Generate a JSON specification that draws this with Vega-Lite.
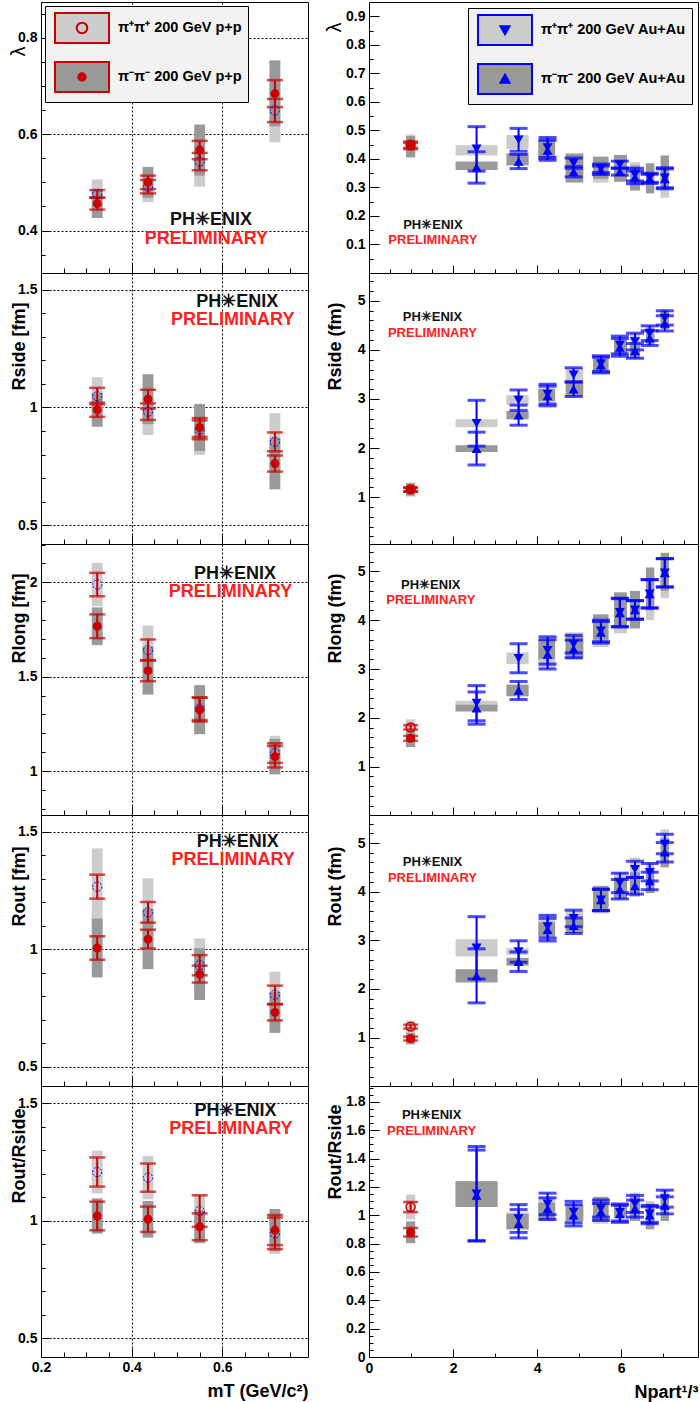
{
  "$schema": "https://vega.github.io/schema/vega-lite/v6.json",
  "padding": {"left": 7, "top": 1, "right": 2, "bottom": 0},
  "datasets": {
    "L": [
      {"p":"lambda","s":"P","x":0.324,"y":0.476,"e":0.008,"x1":0.312,"x2":0.336,"y1":0.446,"y2":0.506},
      {"p":"lambda","s":"P","x":0.436,"y":0.491,"e":0.014,"x1":0.424,"x2":0.448,"y1":0.459,"y2":0.523},
      {"p":"lambda","s":"P","x":0.55,"y":0.543,"e":0.018,"x1":0.538,"x2":0.562,"y1":0.491,"y2":0.595},
      {"p":"lambda","s":"P","x":0.716,"y":0.649,"e":0.024,"x1":0.704,"x2":0.728,"y1":0.583,"y2":0.715},
      {"p":"lambda","s":"M","x":0.324,"y":0.456,"e":0.0125,"x1":0.312,"x2":0.336,"y1":0.426,"y2":0.486},
      {"p":"lambda","s":"M","x":0.436,"y":0.5,"e":0.014,"x1":0.424,"x2":0.448,"y1":0.468,"y2":0.532},
      {"p":"lambda","s":"M","x":0.55,"y":0.567,"e":0.019,"x1":0.538,"x2":0.562,"y1":0.514,"y2":0.62},
      {"p":"lambda","s":"M","x":0.716,"y":0.684,"e":0.028,"x1":0.704,"x2":0.728,"y1":0.616,"y2":0.753},
      {"p":"Rside","s":"P","x":0.324,"y":1.048,"e":0.035,"x1":0.312,"x2":0.336,"y1":0.968,"y2":1.128},
      {"p":"Rside","s":"P","x":0.436,"y":0.982,"e":0.035,"x1":0.424,"x2":0.448,"y1":0.883,"y2":1.081},
      {"p":"Rside","s":"P","x":0.55,"y":0.905,"e":0.04,"x1":0.538,"x2":0.562,"y1":0.799,"y2":1.011},
      {"p":"Rside","s":"P","x":0.716,"y":0.854,"e":0.04,"x1":0.704,"x2":0.728,"y1":0.732,"y2":0.976},
      {"p":"Rside","s":"M","x":0.324,"y":0.99,"e":0.03,"x1":0.312,"x2":0.336,"y1":0.918,"y2":1.062},
      {"p":"Rside","s":"M","x":0.436,"y":1.035,"e":0.04,"x1":0.424,"x2":0.448,"y1":0.929,"y2":1.141},
      {"p":"Rside","s":"M","x":0.55,"y":0.915,"e":0.04,"x1":0.538,"x2":0.562,"y1":0.815,"y2":1.015},
      {"p":"Rside","s":"M","x":0.716,"y":0.762,"e":0.034,"x1":0.704,"x2":0.728,"y1":0.653,"y2":0.871},
      {"p":"Rlong","s":"P","x":0.324,"y":1.988,"e":0.062,"x1":0.312,"x2":0.336,"y1":1.873,"y2":2.103},
      {"p":"Rlong","s":"P","x":0.436,"y":1.641,"e":0.056,"x1":0.424,"x2":0.448,"y1":1.511,"y2":1.771},
      {"p":"Rlong","s":"P","x":0.55,"y":1.33,"e":0.06,"x1":0.538,"x2":0.562,"y1":1.21,"y2":1.45},
      {"p":"Rlong","s":"P","x":0.716,"y":1.095,"e":0.052,"x1":0.704,"x2":0.728,"y1":1.003,"y2":1.187},
      {"p":"Rlong","s":"M","x":0.324,"y":1.767,"e":0.063,"x1":0.312,"x2":0.336,"y1":1.667,"y2":1.867},
      {"p":"Rlong","s":"M","x":0.436,"y":1.532,"e":0.056,"x1":0.424,"x2":0.448,"y1":1.405,"y2":1.659},
      {"p":"Rlong","s":"M","x":0.55,"y":1.325,"e":0.063,"x1":0.538,"x2":0.562,"y1":1.195,"y2":1.455},
      {"p":"Rlong","s":"M","x":0.716,"y":1.076,"e":0.057,"x1":0.704,"x2":0.728,"y1":0.982,"y2":1.17},
      {"p":"Rout","s":"P","x":0.324,"y":1.267,"e":0.051,"x1":0.312,"x2":0.336,"y1":1.104,"y2":1.43},
      {"p":"Rout","s":"P","x":0.436,"y":1.158,"e":0.044,"x1":0.424,"x2":0.448,"y1":1.013,"y2":1.303},
      {"p":"Rout","s":"P","x":0.55,"y":0.933,"e":0.043,"x1":0.538,"x2":0.562,"y1":0.819,"y2":1.047},
      {"p":"Rout","s":"P","x":0.716,"y":0.807,"e":0.039,"x1":0.704,"x2":0.728,"y1":0.709,"y2":0.905},
      {"p":"Rout","s":"M","x":0.324,"y":1.006,"e":0.05,"x1":0.312,"x2":0.336,"y1":0.881,"y2":1.131},
      {"p":"Rout","s":"M","x":0.436,"y":1.044,"e":0.04,"x1":0.424,"x2":0.448,"y1":0.916,"y2":1.172},
      {"p":"Rout","s":"M","x":0.55,"y":0.895,"e":0.036,"x1":0.538,"x2":0.562,"y1":0.785,"y2":1.005},
      {"p":"Rout","s":"M","x":0.716,"y":0.732,"e":0.034,"x1":0.704,"x2":0.728,"y1":0.645,"y2":0.819},
      {"p":"ratio","s":"P","x":0.324,"y":1.207,"e":0.062,"x1":0.312,"x2":0.336,"y1":1.116,"y2":1.298},
      {"p":"ratio","s":"P","x":0.436,"y":1.183,"e":0.06,"x1":0.424,"x2":0.448,"y1":1.091,"y2":1.275},
      {"p":"ratio","s":"P","x":0.55,"y":1.041,"e":0.067,"x1":0.538,"x2":0.562,"y1":0.971,"y2":1.111},
      {"p":"ratio","s":"P","x":0.716,"y":0.946,"e":0.067,"x1":0.704,"x2":0.728,"y1":0.859,"y2":1.033},
      {"p":"ratio","s":"M","x":0.324,"y":1.02,"e":0.061,"x1":0.312,"x2":0.336,"y1":0.945,"y2":1.095},
      {"p":"ratio","s":"M","x":0.436,"y":1.006,"e":0.054,"x1":0.424,"x2":0.448,"y1":0.928,"y2":1.084},
      {"p":"ratio","s":"M","x":0.55,"y":0.974,"e":0.057,"x1":0.538,"x2":0.562,"y1":0.904,"y2":1.044},
      {"p":"ratio","s":"M","x":0.716,"y":0.96,"e":0.064,"x1":0.704,"x2":0.728,"y1":0.87,"y2":1.05},
      {"p":"lambda","w":"PH✳ENIX","x":0.575,"y":0.421},
      {"p":"lambda","w":"PRELIMINARY","x":0.565,"y":0.382},
      {"p":"Rside","w":"PH✳ENIX","x":0.633,"y":1.447},
      {"p":"Rside","w":"PRELIMINARY","x":0.623,"y":1.37},
      {"p":"Rlong","w":"PH✳ENIX","x":0.628,"y":2.044},
      {"p":"Rlong","w":"PRELIMINARY","x":0.618,"y":1.949},
      {"p":"Rout","w":"PH✳ENIX","x":0.634,"y":1.458},
      {"p":"Rout","w":"PRELIMINARY","x":0.624,"y":1.382},
      {"p":"ratio","w":"PH✳ENIX","x":0.629,"y":1.466},
      {"p":"ratio","w":"PRELIMINARY","x":0.619,"y":1.39}
    ],
    "R": [
      {"p":"lambda","s":"P","x":0.99,"y":0.45,"e":0.011,"x1":0.88,"x2":1.1,"y1":0.415,"y2":0.485},
      {"p":"lambda","s":"M","x":0.99,"y":0.445,"e":0.011,"x1":0.88,"x2":1.1,"y1":0.405,"y2":0.48},
      {"p":"lambda","s":"AP","x":2.56,"y":0.435,"e":0.078,"x1":2.06,"x2":3.06,"y1":0.412,"y2":0.448},
      {"p":"lambda","s":"AP","x":3.56,"y":0.467,"e":0.04,"x1":3.27,"x2":3.8,"y1":0.435,"y2":0.484},
      {"p":"lambda","s":"AP","x":4.25,"y":0.44,"e":0.035,"x1":4.03,"x2":4.43,"y1":0.395,"y2":0.47},
      {"p":"lambda","s":"AP","x":4.87,"y":0.385,"e":0.018,"x1":4.68,"x2":5.1,"y1":0.345,"y2":0.42},
      {"p":"lambda","s":"AP","x":5.52,"y":0.367,"e":0.015,"x1":5.33,"x2":5.7,"y1":0.317,"y2":0.402},
      {"p":"lambda","s":"AP","x":5.97,"y":0.38,"e":0.012,"x1":5.83,"x2":6.14,"y1":0.32,"y2":0.41},
      {"p":"lambda","s":"AP","x":6.33,"y":0.345,"e":0.022,"x1":6.21,"x2":6.45,"y1":0.3,"y2":0.388},
      {"p":"lambda","s":"AP","x":6.68,"y":0.334,"e":0.016,"x1":6.59,"x2":6.79,"y1":0.29,"y2":0.37},
      {"p":"lambda","s":"AP","x":7.04,"y":0.334,"e":0.035,"x1":6.94,"x2":7.14,"y1":0.264,"y2":0.37},
      {"p":"lambda","s":"AM","x":2.56,"y":0.37,"e":0.055,"x1":2.06,"x2":3.06,"y1":0.361,"y2":0.391},
      {"p":"lambda","s":"AM","x":3.56,"y":0.391,"e":0.025,"x1":3.27,"x2":3.8,"y1":0.377,"y2":0.42},
      {"p":"lambda","s":"AM","x":4.25,"y":0.43,"e":0.035,"x1":4.03,"x2":4.43,"y1":0.397,"y2":0.467},
      {"p":"lambda","s":"AM","x":4.87,"y":0.355,"e":0.018,"x1":4.68,"x2":5.1,"y1":0.317,"y2":0.418},
      {"p":"lambda","s":"AM","x":5.52,"y":0.36,"e":0.015,"x1":5.33,"x2":5.7,"y1":0.33,"y2":0.408},
      {"p":"lambda","s":"AM","x":5.97,"y":0.355,"e":0.012,"x1":5.83,"x2":6.14,"y1":0.32,"y2":0.414},
      {"p":"lambda","s":"AM","x":6.33,"y":0.335,"e":0.022,"x1":6.21,"x2":6.45,"y1":0.289,"y2":0.377},
      {"p":"lambda","s":"AM","x":6.68,"y":0.33,"e":0.016,"x1":6.59,"x2":6.79,"y1":0.279,"y2":0.385},
      {"p":"lambda","s":"AM","x":7.04,"y":0.33,"e":0.035,"x1":6.94,"x2":7.14,"y1":0.3,"y2":0.412},
      {"p":"Rside","s":"P","x":0.99,"y":1.16,"e":0.04,"x1":0.88,"x2":1.1,"y1":1.01,"y2":1.3},
      {"p":"Rside","s":"M","x":0.99,"y":1.15,"e":0.04,"x1":0.88,"x2":1.1,"y1":1.03,"y2":1.28},
      {"p":"Rside","s":"AP","x":2.56,"y":2.506,"e":0.467,"x1":2.06,"x2":3.06,"y1":2.424,"y2":2.588},
      {"p":"Rside","s":"AP","x":3.56,"y":2.976,"e":0.208,"x1":3.27,"x2":3.8,"y1":2.874,"y2":3.078},
      {"p":"Rside","s":"AP","x":4.25,"y":3.1,"e":0.2,"x1":4.03,"x2":4.43,"y1":2.96,"y2":3.22},
      {"p":"Rside","s":"AP","x":4.87,"y":3.49,"e":0.146,"x1":4.68,"x2":5.1,"y1":3.35,"y2":3.63},
      {"p":"Rside","s":"AP","x":5.52,"y":3.72,"e":0.16,"x1":5.33,"x2":5.7,"y1":3.58,"y2":3.86},
      {"p":"Rside","s":"AP","x":5.97,"y":4.1,"e":0.18,"x1":5.83,"x2":6.14,"y1":3.95,"y2":4.25},
      {"p":"Rside","s":"AP","x":6.33,"y":4.17,"e":0.17,"x1":6.21,"x2":6.45,"y1":4.0,"y2":4.34},
      {"p":"Rside","s":"AP","x":6.68,"y":4.34,"e":0.15,"x1":6.59,"x2":6.79,"y1":4.2,"y2":4.48},
      {"p":"Rside","s":"AP","x":7.04,"y":4.65,"e":0.146,"x1":6.94,"x2":7.14,"y1":4.47,"y2":4.83},
      {"p":"Rside","s":"AM","x":2.56,"y":1.99,"e":0.334,"x1":2.06,"x2":3.06,"y1":1.922,"y2":2.058},
      {"p":"Rside","s":"AM","x":3.56,"y":2.67,"e":0.204,"x1":3.27,"x2":3.8,"y1":2.585,"y2":2.755},
      {"p":"Rside","s":"AM","x":4.25,"y":3.06,"e":0.2,"x1":4.03,"x2":4.43,"y1":2.95,"y2":3.2},
      {"p":"Rside","s":"AM","x":4.87,"y":3.2,"e":0.15,"x1":4.68,"x2":5.1,"y1":3.05,"y2":3.35},
      {"p":"Rside","s":"AM","x":5.52,"y":3.69,"e":0.16,"x1":5.33,"x2":5.7,"y1":3.56,"y2":3.82},
      {"p":"Rside","s":"AM","x":5.97,"y":4.05,"e":0.18,"x1":5.83,"x2":6.14,"y1":3.9,"y2":4.2},
      {"p":"Rside","s":"AM","x":6.33,"y":3.98,"e":0.15,"x1":6.21,"x2":6.45,"y1":3.82,"y2":4.14},
      {"p":"Rside","s":"AM","x":6.68,"y":4.24,"e":0.15,"x1":6.59,"x2":6.79,"y1":4.1,"y2":4.38},
      {"p":"Rside","s":"AM","x":7.04,"y":4.54,"e":0.155,"x1":6.94,"x2":7.14,"y1":4.42,"y2":4.8},
      {"p":"Rlong","s":"P","x":0.99,"y":1.805,"e":0.045,"x1":0.88,"x2":1.1,"y1":1.64,"y2":1.97},
      {"p":"Rlong","s":"M","x":0.99,"y":1.58,"e":0.05,"x1":0.88,"x2":1.1,"y1":1.4,"y2":1.76},
      {"p":"Rlong","s":"AP","x":2.56,"y":2.3,"e":0.36,"x1":2.06,"x2":3.06,"y1":2.21,"y2":2.35},
      {"p":"Rlong","s":"AP","x":3.56,"y":3.22,"e":0.297,"x1":3.27,"x2":3.8,"y1":3.1,"y2":3.34},
      {"p":"Rlong","s":"AP","x":4.25,"y":3.38,"e":0.28,"x1":4.03,"x2":4.43,"y1":3.01,"y2":3.45},
      {"p":"Rlong","s":"AP","x":4.87,"y":3.51,"e":0.18,"x1":4.68,"x2":5.1,"y1":3.25,"y2":3.75},
      {"p":"Rlong","s":"AP","x":5.52,"y":3.78,"e":0.22,"x1":5.33,"x2":5.7,"y1":3.45,"y2":3.95},
      {"p":"Rlong","s":"AP","x":5.97,"y":4.16,"e":0.29,"x1":5.83,"x2":6.14,"y1":3.73,"y2":4.5},
      {"p":"Rlong","s":"AP","x":6.33,"y":4.21,"e":0.19,"x1":6.21,"x2":6.45,"y1":3.9,"y2":4.55},
      {"p":"Rlong","s":"AP","x":6.68,"y":4.54,"e":0.29,"x1":6.59,"x2":6.79,"y1":4.0,"y2":4.9},
      {"p":"Rlong","s":"AP","x":7.04,"y":4.97,"e":0.29,"x1":6.94,"x2":7.14,"y1":4.45,"y2":5.2},
      {"p":"Rlong","s":"AM","x":2.56,"y":2.2,"e":0.33,"x1":2.06,"x2":3.06,"y1":2.13,"y2":2.27},
      {"p":"Rlong","s":"AM","x":3.56,"y":2.56,"e":0.184,"x1":3.27,"x2":3.8,"y1":2.44,"y2":2.68},
      {"p":"Rlong","s":"AM","x":4.25,"y":3.3,"e":0.3,"x1":4.03,"x2":4.43,"y1":3.2,"y2":3.61},
      {"p":"Rlong","s":"AM","x":4.87,"y":3.41,"e":0.18,"x1":4.68,"x2":5.1,"y1":3.2,"y2":3.68},
      {"p":"Rlong","s":"AM","x":5.52,"y":3.75,"e":0.22,"x1":5.33,"x2":5.7,"y1":3.6,"y2":4.12},
      {"p":"Rlong","s":"AM","x":5.97,"y":4.15,"e":0.29,"x1":5.83,"x2":6.14,"y1":3.88,"y2":4.57},
      {"p":"Rlong","s":"AM","x":6.33,"y":4.21,"e":0.19,"x1":6.21,"x2":6.45,"y1":3.83,"y2":4.6},
      {"p":"Rlong","s":"AM","x":6.68,"y":4.54,"e":0.29,"x1":6.59,"x2":6.79,"y1":4.2,"y2":5.08},
      {"p":"Rlong","s":"AM","x":7.04,"y":4.97,"e":0.29,"x1":6.94,"x2":7.14,"y1":4.6,"y2":5.38},
      {"p":"Rout","s":"P","x":0.99,"y":1.226,"e":0.04,"x1":0.88,"x2":1.1,"y1":1.1,"y2":1.35},
      {"p":"Rout","s":"M","x":0.99,"y":0.98,"e":0.04,"x1":0.88,"x2":1.1,"y1":0.86,"y2":1.1},
      {"p":"Rout","s":"AP","x":2.56,"y":2.846,"e":0.64,"x1":2.06,"x2":3.06,"y1":2.668,"y2":3.024},
      {"p":"Rout","s":"AP","x":3.56,"y":2.77,"e":0.22,"x1":3.27,"x2":3.8,"y1":2.7,"y2":2.84},
      {"p":"Rout","s":"AP","x":4.25,"y":3.28,"e":0.233,"x1":4.03,"x2":4.43,"y1":3.12,"y2":3.44},
      {"p":"Rout","s":"AP","x":4.87,"y":3.45,"e":0.17,"x1":4.68,"x2":5.1,"y1":3.3,"y2":3.6},
      {"p":"Rout","s":"AP","x":5.52,"y":3.83,"e":0.22,"x1":5.33,"x2":5.7,"y1":3.55,"y2":4.1},
      {"p":"Rout","s":"AP","x":5.97,"y":4.18,"e":0.2,"x1":5.83,"x2":6.14,"y1":3.9,"y2":4.4},
      {"p":"Rout","s":"AP","x":6.33,"y":4.46,"e":0.165,"x1":6.21,"x2":6.45,"y1":4.25,"y2":4.7},
      {"p":"Rout","s":"AP","x":6.68,"y":4.4,"e":0.18,"x1":6.59,"x2":6.79,"y1":4.2,"y2":4.6},
      {"p":"Rout","s":"AP","x":7.04,"y":4.98,"e":0.2,"x1":6.94,"x2":7.14,"y1":4.65,"y2":5.28},
      {"p":"Rout","s":"AM","x":2.56,"y":2.27,"e":0.556,"x1":2.06,"x2":3.06,"y1":2.133,"y2":2.407},
      {"p":"Rout","s":"AM","x":3.56,"y":2.56,"e":0.2,"x1":3.27,"x2":3.8,"y1":2.48,"y2":2.64},
      {"p":"Rout","s":"AM","x":4.25,"y":3.22,"e":0.233,"x1":4.03,"x2":4.43,"y1":3.07,"y2":3.37},
      {"p":"Rout","s":"AM","x":4.87,"y":3.3,"e":0.16,"x1":4.68,"x2":5.1,"y1":3.15,"y2":3.45},
      {"p":"Rout","s":"AM","x":5.52,"y":3.83,"e":0.22,"x1":5.33,"x2":5.7,"y1":3.6,"y2":4.12},
      {"p":"Rout","s":"AM","x":5.97,"y":4.05,"e":0.2,"x1":5.83,"x2":6.14,"y1":3.85,"y2":4.3},
      {"p":"Rout","s":"AM","x":6.33,"y":4.12,"e":0.17,"x1":6.21,"x2":6.45,"y1":3.9,"y2":4.4},
      {"p":"Rout","s":"AM","x":6.68,"y":4.22,"e":0.18,"x1":6.59,"x2":6.79,"y1":3.97,"y2":4.45},
      {"p":"Rout","s":"AM","x":7.04,"y":4.81,"e":0.2,"x1":6.94,"x2":7.14,"y1":4.5,"y2":5.1},
      {"p":"ratio","s":"P","x":0.99,"y":1.058,"e":0.036,"x1":0.88,"x2":1.1,"y1":0.97,"y2":1.146},
      {"p":"ratio","s":"M","x":0.99,"y":0.88,"e":0.03,"x1":0.88,"x2":1.1,"y1":0.803,"y2":0.957},
      {"p":"ratio","s":"AP","x":2.56,"y":1.152,"e":0.333,"x1":2.06,"x2":3.06,"y1":1.06,"y2":1.24},
      {"p":"ratio","s":"AP","x":3.56,"y":0.977,"e":0.098,"x1":3.27,"x2":3.8,"y1":0.91,"y2":1.02},
      {"p":"ratio","s":"AP","x":4.25,"y":1.08,"e":0.076,"x1":4.03,"x2":4.43,"y1":1.0,"y2":1.13},
      {"p":"ratio","s":"AP","x":4.87,"y":1.023,"e":0.075,"x1":4.68,"x2":5.1,"y1":0.97,"y2":1.08},
      {"p":"ratio","s":"AP","x":5.52,"y":1.047,"e":0.06,"x1":5.33,"x2":5.7,"y1":0.94,"y2":1.11},
      {"p":"ratio","s":"AP","x":5.97,"y":1.02,"e":0.06,"x1":5.83,"x2":6.14,"y1":0.98,"y2":1.07},
      {"p":"ratio","s":"AP","x":6.33,"y":1.08,"e":0.06,"x1":6.21,"x2":6.45,"y1":0.97,"y2":1.16},
      {"p":"ratio","s":"AP","x":6.68,"y":1.01,"e":0.06,"x1":6.59,"x2":6.79,"y1":0.93,"y2":1.1},
      {"p":"ratio","s":"AP","x":7.04,"y":1.117,"e":0.06,"x1":6.94,"x2":7.14,"y1":1.03,"y2":1.18},
      {"p":"ratio","s":"AM","x":2.56,"y":1.14,"e":0.32,"x1":2.06,"x2":3.06,"y1":1.058,"y2":1.24},
      {"p":"ratio","s":"AM","x":3.56,"y":0.94,"e":0.1,"x1":3.27,"x2":3.8,"y1":0.9,"y2":1.01},
      {"p":"ratio","s":"AM","x":4.25,"y":1.047,"e":0.076,"x1":4.03,"x2":4.43,"y1":0.96,"y2":1.09},
      {"p":"ratio","s":"AM","x":4.87,"y":1.0,"e":0.075,"x1":4.68,"x2":5.1,"y1":0.96,"y2":1.07},
      {"p":"ratio","s":"AM","x":5.52,"y":1.023,"e":0.06,"x1":5.33,"x2":5.7,"y1":0.96,"y2":1.13},
      {"p":"ratio","s":"AM","x":5.97,"y":1.01,"e":0.06,"x1":5.83,"x2":6.14,"y1":0.98,"y2":1.07},
      {"p":"ratio","s":"AM","x":6.33,"y":1.047,"e":0.06,"x1":6.21,"x2":6.45,"y1":0.96,"y2":1.13},
      {"p":"ratio","s":"AM","x":6.68,"y":1.0,"e":0.06,"x1":6.59,"x2":6.79,"y1":0.9,"y2":1.08},
      {"p":"ratio","s":"AM","x":7.04,"y":1.07,"e":0.06,"x1":6.94,"x2":7.14,"y1":0.96,"y2":1.12},
      {"p":"lambda","w":"PH✳ENIX","x":1.52,"y":0.17},
      {"p":"lambda","w":"PRELIMINARY","x":1.52,"y":0.114},
      {"p":"Rside","w":"PH✳ENIX","x":1.51,"y":4.67},
      {"p":"Rside","w":"PRELIMINARY","x":1.51,"y":4.345},
      {"p":"Rlong","w":"PH✳ENIX","x":1.47,"y":4.73},
      {"p":"Rlong","w":"PRELIMINARY","x":1.47,"y":4.405},
      {"p":"Rout","w":"PH✳ENIX","x":1.51,"y":4.6},
      {"p":"Rout","w":"PRELIMINARY","x":1.51,"y":4.275},
      {"p":"ratio","w":"PH✳ENIX","x":1.49,"y":1.704},
      {"p":"ratio","w":"PRELIMINARY","x":1.49,"y":1.591}
    ]
  },
  "columns": 2,
  "spacing": {"row": 0, "column": 61},
  "bounds": "flush",
  "resolve": {
    "scale": {"x": "independent", "y": "independent", "fill": "independent"},
    "axis": {"x": "independent", "y": "independent"},
    "legend": {"fill": "independent"}
  },
  "concat": [
    {
      "width": 267, "height": 271,
      "data": {"name": "L"},
      "transform": [{"filter": "datum.p == 'lambda'"}],
      "encoding": {
        "x": {"field": "x", "type": "quantitative", "scale": {"domain": [0.2, 0.789], "nice": false, "zero": false},
          "axis": {"values": [0.2,0.25,0.3,0.35,0.4,0.45,0.5,0.55,0.6,0.65,0.7,0.75], "labels": false, "title": null, "grid": true,
            "gridOpacity": {"condition": {"test": "abs(datum.value/0.2-round(datum.value/0.2))<0.001", "value": 1}, "value": 0},
            "tickSize": {"condition": {"test": "abs(datum.value/0.2-round(datum.value/0.2))<0.001", "value": -9}, "value": -5}}},
        "y": {"field": "y", "type": "quantitative", "scale": {"domain": [0.312, 0.874], "nice": false, "zero": false},
          "axis": {"values": [0.35,0.4,0.45,0.5,0.55,0.6,0.65,0.7,0.75,0.8,0.85], "title": "λ", "titleFontWeight": "normal", "titleFontSize": 20, "titleY": 44, "titleAlign": "right", "format": ".1f",
            "labelExpr": "abs(datum.value/0.2-round(datum.value/0.2))<0.001 ? datum.label : ''", "grid": true,
            "gridOpacity": {"condition": {"test": "abs(datum.value/0.2-round(datum.value/0.2))<0.001", "value": 1}, "value": 0},
            "tickSize": {"condition": {"test": "abs(datum.value/0.2-round(datum.value/0.2))<0.001", "value": -8}, "value": -4},
            "minExtent": 10, "maxExtent": 10, "titlePadding": 3}}
      },
      "layer": [
        {"transform": [{"filter": "isValid(datum.s)"}], "mark": "rect",
          "encoding": {
            "x": {"field": "x1", "type": "quantitative", "scale": {"domain": [0.2, 0.789], "nice": false, "zero": false}},
            "x2": {"field": "x2"},
            "y": {"field": "y1", "type": "quantitative", "scale": {"domain": [0.312, 0.874], "nice": false, "zero": false}},
            "y2": {"field": "y2"},
            "fill": {"field": "s", "type": "nominal", "scale": {"domain": ["P","M","AP","AM"], "range": ["#cccccc","#999999","#cccccc","#999999"]},
              "legend": {"title": null, "orient": "top-left", "values": ["P","M"],
                "labelExpr": "datum.label == 'P' ? 'π⁺π⁺ 200 GeV p+p' : 'π⁻π⁻ 200 GeV p+p'",
                "encode": {"symbols": {"update": {
                  "shape": {"signal": "datum.value == 'P' ? 'M-1.8,-1L1.8,-1L1.8,1L-1.8,1ZM0.35,0A0.35,0.35,0,1,1,-0.35,0A0.35,0.35,0,1,1,0.35,0Z' : 'M-1.8,-1L1.8,-1L1.8,1L-1.8,1ZM0.25,0A0.25,0.25,0,1,1,-0.25,0A0.25,0.25,0,1,1,0.25,0ZM0.12,0A0.12,0.12,0,1,1,-0.12,0A0.12,0.12,0,1,1,0.12,0ZM0.03,0A0.03,0.03,0,1,1,-0.03,0A0.03,0.03,0,1,1,0.03,0Z'"},
                  "stroke": {"value": "#cc0000"}, "strokeWidth": {"value": 2}}}}}}
          }},
        {"transform": [{"filter": "isValid(datum.s)"}], "mark": {"type": "errorbar", "color": "#cc0000", "thickness": 2, "ticks": {"size": 16, "thickness": 2.5}},
          "encoding": {"yError": {"field": "e"}}},
        {"transform": [{"filter": "datum.s == 'P'"}], "mark": {"type": "point", "shape": "circle", "filled": false, "stroke": "#0000ff", "strokeWidth": 1, "strokeDash": [2, 1.5], "size": 85, "opacity": 1}},
        {"transform": [{"filter": "datum.s == 'M'"}], "mark": {"type": "point", "shape": "circle", "filled": true, "fill": "#cc0000", "size": 80, "opacity": 1}},
        {"transform": [{"filter": "isValid(datum.w)"}], "mark": {"type": "text", "font": "Liberation Sans", "fontWeight": "bold", "fontSize": 18, "align": "center", "baseline": "middle"},
          "encoding": {"text": {"field": "w"}, "color": {"condition": {"test": "datum.w == 'PRELIMINARY'", "value": "#ff2020"}, "value": "#111111"}}}
      ]
    },
    {
      "width": 329, "height": 271,
      "data": {"name": "R"},
      "transform": [{"filter": "datum.p == 'lambda'"}],
      "encoding": {
        "x": {"field": "x", "type": "quantitative", "scale": {"domain": [0, 7.83], "nice": false, "zero": false},
          "axis": {"values": [0,0.5,1,1.5,2,2.5,3,3.5,4,4.5,5,5.5,6,6.5,7,7.5], "labels": false, "title": null, "grid": false,
            "tickSize": {"condition": {"test": "abs(datum.value/2-round(datum.value/2))<0.001", "value": -8}, "value": -4}}},
        "y": {"field": "y", "type": "quantitative", "scale": {"domain": [0, 0.95], "nice": false, "zero": false},
          "axis": {"values": [0.05,0.1,0.15,0.2,0.25,0.3,0.35,0.4,0.45,0.5,0.55,0.6,0.65,0.7,0.75,0.8,0.85,0.9], "title": "λ", "titleFontWeight": "normal", "titleFontSize": 20, "titleY": 20, "titleAlign": "right", "format": ".1f",
            "labelExpr": "abs(datum.value/0.1-round(datum.value/0.1))<0.001 ? datum.label : ''", "grid": false, "labelPadding": 14,
            "tickSize": {"condition": {"test": "abs(datum.value/0.1-round(datum.value/0.1))<0.001", "value": -10}, "value": -4},
            "minExtent": 22, "maxExtent": 22, "titlePadding": 3}}
      },
      "layer": [
        {"transform": [{"filter": "isValid(datum.s)"}], "mark": "rect",
          "encoding": {
            "x": {"field": "x1", "type": "quantitative", "scale": {"domain": [0, 7.83], "nice": false, "zero": false}},
            "x2": {"field": "x2"},
            "y": {"field": "y1", "type": "quantitative", "scale": {"domain": [0, 0.95], "nice": false, "zero": false}},
            "y2": {"field": "y2"},
            "fill": {"field": "s", "type": "nominal", "scale": {"domain": ["P","M","AP","AM"], "range": ["#cccccc","#999999","#cccccc","#999999"]},
              "legend": {"title": null, "orient": "top-right", "offset": 6, "values": ["AP","AM"],
                "labelExpr": "datum.label == 'AP' ? 'π⁺π⁺ 200 GeV Au+Au' : 'π⁻π⁻ 200 GeV Au+Au'",
                "encode": {"symbols": {"update": {
                  "shape": {"signal": "datum.value == 'AP' ? 'M-1.8,-1L1.8,-1L1.8,1L-1.8,1ZM-0.3,-0.25L0.3,-0.25L0,0.28ZM-0.13,-0.11L0.13,-0.11L0,0.12Z' : 'M-1.8,-1L1.8,-1L1.8,1L-1.8,1ZM0.3,0.25L-0.3,0.25L0,-0.28ZM0.13,0.11L-0.13,0.11L0,-0.12Z'"},
                  "stroke": {"value": "#0000ff"}, "strokeWidth": {"value": 2}}}}}}
          }},
        {"transform": [{"filter": "datum.s == 'P' || datum.s == 'M'"}], "mark": {"type": "errorbar", "color": "#cc0000", "thickness": 2, "ticks": {"size": 15, "thickness": 2.5}},
          "encoding": {"yError": {"field": "e"}}},
        {"transform": [{"filter": "datum.s == 'AP' || datum.s == 'AM'"}], "mark": {"type": "errorbar", "color": "#0000ff", "thickness": 2, "ticks": {"size": 18, "thickness": 3}},
          "encoding": {"yError": {"field": "e"}}},
        {"transform": [{"filter": "datum.s == 'M'"}], "mark": {"type": "point", "shape": "circle", "filled": true, "fill": "#cc0000", "size": 80, "opacity": 1}},
        {"transform": [{"filter": "datum.s == 'AP'"}], "mark": {"type": "point", "shape": "triangle-down", "filled": true, "fill": "#0000ff", "size": 100, "opacity": 1}},
        {"transform": [{"filter": "datum.s == 'AM'"}], "mark": {"type": "point", "shape": "triangle-up", "filled": true, "fill": "#0000ff", "size": 100, "opacity": 1}},
        {"transform": [{"filter": "datum.s == 'P'"}], "mark": {"type": "point", "shape": "circle", "filled": false, "stroke": "#cc0000", "strokeWidth": 1.5, "size": 80, "opacity": 1}},
        {"transform": [{"filter": "isValid(datum.w)"}], "mark": {"type": "text", "font": "Liberation Sans", "fontWeight": "bold", "fontSize": 13, "align": "center", "baseline": "middle"},
          "encoding": {"text": {"field": "w"}, "color": {"condition": {"test": "datum.w == 'PRELIMINARY'", "value": "#ff2020"}, "value": "#111111"}}}
      ]
    },
    {
      "width": 267, "height": 271,
      "data": {"name": "L"},
      "transform": [{"filter": "datum.p == 'Rside'"}],
      "encoding": {
        "x": {"field": "x", "type": "quantitative", "scale": {"domain": [0.2, 0.789], "nice": false, "zero": false},
          "axis": {"values": [0.2,0.25,0.3,0.35,0.4,0.45,0.5,0.55,0.6,0.65,0.7,0.75], "labels": false, "title": null, "grid": true,
            "gridOpacity": {"condition": {"test": "abs(datum.value/0.2-round(datum.value/0.2))<0.001", "value": 1}, "value": 0},
            "tickSize": {"condition": {"test": "abs(datum.value/0.2-round(datum.value/0.2))<0.001", "value": -9}, "value": -5}}},
        "y": {"field": "y", "type": "quantitative", "scale": {"domain": [0.421, 1.57], "nice": false, "zero": false},
          "axis": {"values": [0.5,0.6,0.7,0.8,0.9,1,1.1,1.2,1.3,1.4,1.5], "title": "Rside [fm]", "titleY": 29, "titleAlign": "right", "format": "~g",
            "labelExpr": "abs(datum.value/0.5-round(datum.value/0.5))<0.001 ? datum.label : ''", "grid": true,
            "gridOpacity": {"condition": {"test": "abs(datum.value/0.5-round(datum.value/0.5))<0.001", "value": 1}, "value": 0},
            "tickSize": {"condition": {"test": "abs(datum.value/0.5-round(datum.value/0.5))<0.001", "value": -8}, "value": -4},
            "minExtent": 10, "maxExtent": 10, "titlePadding": 3}}
      },
      "layer": [
        {"transform": [{"filter": "isValid(datum.s)"}], "mark": "rect",
          "encoding": {
            "x": {"field": "x1", "type": "quantitative", "scale": {"domain": [0.2, 0.789], "nice": false, "zero": false}},
            "x2": {"field": "x2"},
            "y": {"field": "y1", "type": "quantitative", "scale": {"domain": [0.421, 1.57], "nice": false, "zero": false}},
            "y2": {"field": "y2"},
            "fill": {"field": "s", "type": "nominal", "scale": {"domain": ["P","M","AP","AM"], "range": ["#cccccc","#999999","#cccccc","#999999"]}, "legend": null}
          }},
        {"transform": [{"filter": "isValid(datum.s)"}], "mark": {"type": "errorbar", "color": "#cc0000", "thickness": 2, "ticks": {"size": 16, "thickness": 2.5}},
          "encoding": {"yError": {"field": "e"}}},
        {"transform": [{"filter": "datum.s == 'P'"}], "mark": {"type": "point", "shape": "circle", "filled": false, "stroke": "#0000ff", "strokeWidth": 1, "strokeDash": [2, 1.5], "size": 85, "opacity": 1}},
        {"transform": [{"filter": "datum.s == 'M'"}], "mark": {"type": "point", "shape": "circle", "filled": true, "fill": "#cc0000", "size": 80, "opacity": 1}},
        {"transform": [{"filter": "isValid(datum.w)"}], "mark": {"type": "text", "font": "Liberation Sans", "fontWeight": "bold", "fontSize": 18, "align": "center", "baseline": "middle"},
          "encoding": {"text": {"field": "w"}, "color": {"condition": {"test": "datum.w == 'PRELIMINARY'", "value": "#ff2020"}, "value": "#111111"}}}
      ]
    },
    {
      "width": 329, "height": 271,
      "data": {"name": "R"},
      "transform": [{"filter": "datum.p == 'Rside'"}],
      "encoding": {
        "x": {"field": "x", "type": "quantitative", "scale": {"domain": [0, 7.83], "nice": false, "zero": false},
          "axis": {"values": [0,0.5,1,1.5,2,2.5,3,3.5,4,4.5,5,5.5,6,6.5,7,7.5], "labels": false, "title": null, "grid": false,
            "tickSize": {"condition": {"test": "abs(datum.value/2-round(datum.value/2))<0.001", "value": -8}, "value": -4}}},
        "y": {"field": "y", "type": "quantitative", "scale": {"domain": [0.046, 5.566], "nice": false, "zero": false},
          "axis": {"values": [0.2,0.4,0.6,0.8,1,1.2,1.4,1.6,1.8,2,2.2,2.4,2.6,2.8,3,3.2,3.4,3.6,3.8,4,4.2,4.4,4.6,4.8,5,5.2,5.4], "title": "Rside (fm)", "titleY": 29, "titleAlign": "right", "format": "~g",
            "labelExpr": "abs(datum.value-round(datum.value))<0.001 ? datum.label : ''", "grid": false, "labelPadding": 14,
            "tickSize": {"condition": {"test": "abs(datum.value-round(datum.value))<0.001", "value": -10}, "value": -4},
            "minExtent": 22, "maxExtent": 22, "titlePadding": 3}}
      },
      "layer": [
        {"transform": [{"filter": "isValid(datum.s)"}], "mark": "rect",
          "encoding": {
            "x": {"field": "x1", "type": "quantitative", "scale": {"domain": [0, 7.83], "nice": false, "zero": false}},
            "x2": {"field": "x2"},
            "y": {"field": "y1", "type": "quantitative", "scale": {"domain": [0.046, 5.566], "nice": false, "zero": false}},
            "y2": {"field": "y2"},
            "fill": {"field": "s", "type": "nominal", "scale": {"domain": ["P","M","AP","AM"], "range": ["#cccccc","#999999","#cccccc","#999999"]}, "legend": null}
          }},
        {"transform": [{"filter": "datum.s == 'P' || datum.s == 'M'"}], "mark": {"type": "errorbar", "color": "#cc0000", "thickness": 2, "ticks": {"size": 15, "thickness": 2.5}},
          "encoding": {"yError": {"field": "e"}}},
        {"transform": [{"filter": "datum.s == 'AP' || datum.s == 'AM'"}], "mark": {"type": "errorbar", "color": "#0000ff", "thickness": 2, "ticks": {"size": 18, "thickness": 3}},
          "encoding": {"yError": {"field": "e"}}},
        {"transform": [{"filter": "datum.s == 'M'"}], "mark": {"type": "point", "shape": "circle", "filled": true, "fill": "#cc0000", "size": 80, "opacity": 1}},
        {"transform": [{"filter": "datum.s == 'AP'"}], "mark": {"type": "point", "shape": "triangle-down", "filled": true, "fill": "#0000ff", "size": 100, "opacity": 1}},
        {"transform": [{"filter": "datum.s == 'AM'"}], "mark": {"type": "point", "shape": "triangle-up", "filled": true, "fill": "#0000ff", "size": 100, "opacity": 1}},
        {"transform": [{"filter": "datum.s == 'P'"}], "mark": {"type": "point", "shape": "circle", "filled": false, "stroke": "#cc0000", "strokeWidth": 1.5, "size": 80, "opacity": 1}},
        {"transform": [{"filter": "isValid(datum.w)"}], "mark": {"type": "text", "font": "Liberation Sans", "fontWeight": "bold", "fontSize": 13, "align": "center", "baseline": "middle"},
          "encoding": {"text": {"field": "w"}, "color": {"condition": {"test": "datum.w == 'PRELIMINARY'", "value": "#ff2020"}, "value": "#111111"}}}
      ]
    },
    {
      "width": 267, "height": 271,
      "data": {"name": "L"},
      "transform": [{"filter": "datum.p == 'Rlong'"}],
      "encoding": {
        "x": {"field": "x", "type": "quantitative", "scale": {"domain": [0.2, 0.789], "nice": false, "zero": false},
          "axis": {"values": [0.2,0.25,0.3,0.35,0.4,0.45,0.5,0.55,0.6,0.65,0.7,0.75], "labels": false, "title": null, "grid": true,
            "gridOpacity": {"condition": {"test": "abs(datum.value/0.2-round(datum.value/0.2))<0.001", "value": 1}, "value": 0},
            "tickSize": {"condition": {"test": "abs(datum.value/0.2-round(datum.value/0.2))<0.001", "value": -9}, "value": -5}}},
        "y": {"field": "y", "type": "quantitative", "scale": {"domain": [0.767, 2.203], "nice": false, "zero": false},
          "axis": {"values": [0.8,0.9,1,1.1,1.2,1.3,1.4,1.5,1.6,1.7,1.8,1.9,2,2.1,2.2], "title": "Rlong [fm]", "titleY": 29, "titleAlign": "right", "format": "~g",
            "labelExpr": "abs(datum.value/0.5-round(datum.value/0.5))<0.001 ? datum.label : ''", "grid": true,
            "gridOpacity": {"condition": {"test": "abs(datum.value/0.5-round(datum.value/0.5))<0.001", "value": 1}, "value": 0},
            "tickSize": {"condition": {"test": "abs(datum.value/0.5-round(datum.value/0.5))<0.001", "value": -8}, "value": -4},
            "minExtent": 10, "maxExtent": 10, "titlePadding": 3}}
      },
      "layer": [
        {"transform": [{"filter": "isValid(datum.s)"}], "mark": "rect",
          "encoding": {
            "x": {"field": "x1", "type": "quantitative", "scale": {"domain": [0.2, 0.789], "nice": false, "zero": false}},
            "x2": {"field": "x2"},
            "y": {"field": "y1", "type": "quantitative", "scale": {"domain": [0.767, 2.203], "nice": false, "zero": false}},
            "y2": {"field": "y2"},
            "fill": {"field": "s", "type": "nominal", "scale": {"domain": ["P","M","AP","AM"], "range": ["#cccccc","#999999","#cccccc","#999999"]}, "legend": null}
          }},
        {"transform": [{"filter": "isValid(datum.s)"}], "mark": {"type": "errorbar", "color": "#cc0000", "thickness": 2, "ticks": {"size": 16, "thickness": 2.5}},
          "encoding": {"yError": {"field": "e"}}},
        {"transform": [{"filter": "datum.s == 'P'"}], "mark": {"type": "point", "shape": "circle", "filled": false, "stroke": "#0000ff", "strokeWidth": 1, "strokeDash": [2, 1.5], "size": 85, "opacity": 1}},
        {"transform": [{"filter": "datum.s == 'M'"}], "mark": {"type": "point", "shape": "circle", "filled": true, "fill": "#cc0000", "size": 80, "opacity": 1}},
        {"transform": [{"filter": "isValid(datum.w)"}], "mark": {"type": "text", "font": "Liberation Sans", "fontWeight": "bold", "fontSize": 18, "align": "center", "baseline": "middle"},
          "encoding": {"text": {"field": "w"}, "color": {"condition": {"test": "datum.w == 'PRELIMINARY'", "value": "#ff2020"}, "value": "#111111"}}}
      ]
    },
    {
      "width": 329, "height": 271,
      "data": {"name": "R"},
      "transform": [{"filter": "datum.p == 'Rlong'"}],
      "encoding": {
        "x": {"field": "x", "type": "quantitative", "scale": {"domain": [0, 7.83], "nice": false, "zero": false},
          "axis": {"values": [0,0.5,1,1.5,2,2.5,3,3.5,4,4.5,5,5.5,6,6.5,7,7.5], "labels": false, "title": null, "grid": false,
            "tickSize": {"condition": {"test": "abs(datum.value/2-round(datum.value/2))<0.001", "value": -8}, "value": -4}}},
        "y": {"field": "y", "type": "quantitative", "scale": {"domain": [0.01, 5.56], "nice": false, "zero": false},
          "axis": {"values": [0.2,0.4,0.6,0.8,1,1.2,1.4,1.6,1.8,2,2.2,2.4,2.6,2.8,3,3.2,3.4,3.6,3.8,4,4.2,4.4,4.6,4.8,5,5.2,5.4], "title": "Rlong (fm)", "titleY": 29, "titleAlign": "right", "format": "~g",
            "labelExpr": "abs(datum.value-round(datum.value))<0.001 ? datum.label : ''", "grid": false, "labelPadding": 14,
            "tickSize": {"condition": {"test": "abs(datum.value-round(datum.value))<0.001", "value": -10}, "value": -4},
            "minExtent": 22, "maxExtent": 22, "titlePadding": 3}}
      },
      "layer": [
        {"transform": [{"filter": "isValid(datum.s)"}], "mark": "rect",
          "encoding": {
            "x": {"field": "x1", "type": "quantitative", "scale": {"domain": [0, 7.83], "nice": false, "zero": false}},
            "x2": {"field": "x2"},
            "y": {"field": "y1", "type": "quantitative", "scale": {"domain": [0.01, 5.56], "nice": false, "zero": false}},
            "y2": {"field": "y2"},
            "fill": {"field": "s", "type": "nominal", "scale": {"domain": ["P","M","AP","AM"], "range": ["#cccccc","#999999","#cccccc","#999999"]}, "legend": null}
          }},
        {"transform": [{"filter": "datum.s == 'P' || datum.s == 'M'"}], "mark": {"type": "errorbar", "color": "#cc0000", "thickness": 2, "ticks": {"size": 15, "thickness": 2.5}},
          "encoding": {"yError": {"field": "e"}}},
        {"transform": [{"filter": "datum.s == 'AP' || datum.s == 'AM'"}], "mark": {"type": "errorbar", "color": "#0000ff", "thickness": 2, "ticks": {"size": 18, "thickness": 3}},
          "encoding": {"yError": {"field": "e"}}},
        {"transform": [{"filter": "datum.s == 'M'"}], "mark": {"type": "point", "shape": "circle", "filled": true, "fill": "#cc0000", "size": 80, "opacity": 1}},
        {"transform": [{"filter": "datum.s == 'AP'"}], "mark": {"type": "point", "shape": "triangle-down", "filled": true, "fill": "#0000ff", "size": 100, "opacity": 1}},
        {"transform": [{"filter": "datum.s == 'AM'"}], "mark": {"type": "point", "shape": "triangle-up", "filled": true, "fill": "#0000ff", "size": 100, "opacity": 1}},
        {"transform": [{"filter": "datum.s == 'P'"}], "mark": {"type": "point", "shape": "circle", "filled": false, "stroke": "#cc0000", "strokeWidth": 1.5, "size": 80, "opacity": 1}},
        {"transform": [{"filter": "isValid(datum.w)"}], "mark": {"type": "text", "font": "Liberation Sans", "fontWeight": "bold", "fontSize": 13, "align": "center", "baseline": "middle"},
          "encoding": {"text": {"field": "w"}, "color": {"condition": {"test": "datum.w == 'PRELIMINARY'", "value": "#ff2020"}, "value": "#111111"}}}
      ]
    },
    {
      "width": 267, "height": 271,
      "data": {"name": "L"},
      "transform": [{"filter": "datum.p == 'Rout'"}],
      "encoding": {
        "x": {"field": "x", "type": "quantitative", "scale": {"domain": [0.2, 0.789], "nice": false, "zero": false},
          "axis": {"values": [0.2,0.25,0.3,0.35,0.4,0.45,0.5,0.55,0.6,0.65,0.7,0.75], "labels": false, "title": null, "grid": true,
            "gridOpacity": {"condition": {"test": "abs(datum.value/0.2-round(datum.value/0.2))<0.001", "value": 1}, "value": 0},
            "tickSize": {"condition": {"test": "abs(datum.value/0.2-round(datum.value/0.2))<0.001", "value": -9}, "value": -5}}},
        "y": {"field": "y", "type": "quantitative", "scale": {"domain": [0.419, 1.572], "nice": false, "zero": false},
          "axis": {"values": [0.5,0.6,0.7,0.8,0.9,1,1.1,1.2,1.3,1.4,1.5], "title": "Rout [fm]", "titleY": 31, "titleAlign": "right", "format": "~g",
            "labelExpr": "abs(datum.value/0.5-round(datum.value/0.5))<0.001 ? datum.label : ''", "grid": true,
            "gridOpacity": {"condition": {"test": "abs(datum.value/0.5-round(datum.value/0.5))<0.001", "value": 1}, "value": 0},
            "tickSize": {"condition": {"test": "abs(datum.value/0.5-round(datum.value/0.5))<0.001", "value": -8}, "value": -4},
            "minExtent": 10, "maxExtent": 10, "titlePadding": 3}}
      },
      "layer": [
        {"transform": [{"filter": "isValid(datum.s)"}], "mark": "rect",
          "encoding": {
            "x": {"field": "x1", "type": "quantitative", "scale": {"domain": [0.2, 0.789], "nice": false, "zero": false}},
            "x2": {"field": "x2"},
            "y": {"field": "y1", "type": "quantitative", "scale": {"domain": [0.419, 1.572], "nice": false, "zero": false}},
            "y2": {"field": "y2"},
            "fill": {"field": "s", "type": "nominal", "scale": {"domain": ["P","M","AP","AM"], "range": ["#cccccc","#999999","#cccccc","#999999"]}, "legend": null}
          }},
        {"transform": [{"filter": "isValid(datum.s)"}], "mark": {"type": "errorbar", "color": "#cc0000", "thickness": 2, "ticks": {"size": 16, "thickness": 2.5}},
          "encoding": {"yError": {"field": "e"}}},
        {"transform": [{"filter": "datum.s == 'P'"}], "mark": {"type": "point", "shape": "circle", "filled": false, "stroke": "#0000ff", "strokeWidth": 1, "strokeDash": [2, 1.5], "size": 85, "opacity": 1}},
        {"transform": [{"filter": "datum.s == 'M'"}], "mark": {"type": "point", "shape": "circle", "filled": true, "fill": "#cc0000", "size": 80, "opacity": 1}},
        {"transform": [{"filter": "isValid(datum.w)"}], "mark": {"type": "text", "font": "Liberation Sans", "fontWeight": "bold", "fontSize": 18, "align": "center", "baseline": "middle"},
          "encoding": {"text": {"field": "w"}, "color": {"condition": {"test": "datum.w == 'PRELIMINARY'", "value": "#ff2020"}, "value": "#111111"}}}
      ]
    },
    {
      "width": 329, "height": 271,
      "data": {"name": "R"},
      "transform": [{"filter": "datum.p == 'Rout'"}],
      "encoding": {
        "x": {"field": "x", "type": "quantitative", "scale": {"domain": [0, 7.83], "nice": false, "zero": false},
          "axis": {"values": [0,0.5,1,1.5,2,2.5,3,3.5,4,4.5,5,5.5,6,6.5,7,7.5], "labels": false, "title": null, "grid": false,
            "tickSize": {"condition": {"test": "abs(datum.value/2-round(datum.value/2))<0.001", "value": -8}, "value": -4}}},
        "y": {"field": "y", "type": "quantitative", "scale": {"domain": [0.005, 5.576], "nice": false, "zero": false},
          "axis": {"values": [0.2,0.4,0.6,0.8,1,1.2,1.4,1.6,1.8,2,2.2,2.4,2.6,2.8,3,3.2,3.4,3.6,3.8,4,4.2,4.4,4.6,4.8,5,5.2,5.4], "title": "Rout (fm)", "titleY": 31, "titleAlign": "right", "format": "~g",
            "labelExpr": "abs(datum.value-round(datum.value))<0.001 ? datum.label : ''", "grid": false, "labelPadding": 14,
            "tickSize": {"condition": {"test": "abs(datum.value-round(datum.value))<0.001", "value": -10}, "value": -4},
            "minExtent": 22, "maxExtent": 22, "titlePadding": 3}}
      },
      "layer": [
        {"transform": [{"filter": "isValid(datum.s)"}], "mark": "rect",
          "encoding": {
            "x": {"field": "x1", "type": "quantitative", "scale": {"domain": [0, 7.83], "nice": false, "zero": false}},
            "x2": {"field": "x2"},
            "y": {"field": "y1", "type": "quantitative", "scale": {"domain": [0.005, 5.576], "nice": false, "zero": false}},
            "y2": {"field": "y2"},
            "fill": {"field": "s", "type": "nominal", "scale": {"domain": ["P","M","AP","AM"], "range": ["#cccccc","#999999","#cccccc","#999999"]}, "legend": null}
          }},
        {"transform": [{"filter": "datum.s == 'P' || datum.s == 'M'"}], "mark": {"type": "errorbar", "color": "#cc0000", "thickness": 2, "ticks": {"size": 15, "thickness": 2.5}},
          "encoding": {"yError": {"field": "e"}}},
        {"transform": [{"filter": "datum.s == 'AP' || datum.s == 'AM'"}], "mark": {"type": "errorbar", "color": "#0000ff", "thickness": 2, "ticks": {"size": 18, "thickness": 3}},
          "encoding": {"yError": {"field": "e"}}},
        {"transform": [{"filter": "datum.s == 'M'"}], "mark": {"type": "point", "shape": "circle", "filled": true, "fill": "#cc0000", "size": 80, "opacity": 1}},
        {"transform": [{"filter": "datum.s == 'AP'"}], "mark": {"type": "point", "shape": "triangle-down", "filled": true, "fill": "#0000ff", "size": 100, "opacity": 1}},
        {"transform": [{"filter": "datum.s == 'AM'"}], "mark": {"type": "point", "shape": "triangle-up", "filled": true, "fill": "#0000ff", "size": 100, "opacity": 1}},
        {"transform": [{"filter": "datum.s == 'P'"}], "mark": {"type": "point", "shape": "circle", "filled": false, "stroke": "#cc0000", "strokeWidth": 1.5, "size": 80, "opacity": 1}},
        {"transform": [{"filter": "isValid(datum.w)"}], "mark": {"type": "text", "font": "Liberation Sans", "fontWeight": "bold", "fontSize": 13, "align": "center", "baseline": "middle"},
          "encoding": {"text": {"field": "w"}, "color": {"condition": {"test": "datum.w == 'PRELIMINARY'", "value": "#ff2020"}, "value": "#111111"}}}
      ]
    },
    {
      "width": 267, "height": 271,
      "data": {"name": "L"},
      "transform": [{"filter": "datum.p == 'ratio'"}],
      "encoding": {
        "x": {"field": "x", "type": "quantitative", "scale": {"domain": [0.2, 0.789], "nice": false, "zero": false},
          "axis": {"values": [0.2,0.25,0.3,0.35,0.4,0.45,0.5,0.55,0.6,0.65,0.7,0.75], "title": "mT (GeV/c²)", "titleAnchor": "end", "format": ".1f",
            "labelExpr": "abs(datum.value/0.2-round(datum.value/0.2))<0.001 ? datum.label : ''", "grid": true,
            "gridOpacity": {"condition": {"test": "abs(datum.value/0.2-round(datum.value/0.2))<0.001", "value": 1}, "value": 0},
            "tickSize": {"condition": {"test": "abs(datum.value/0.2-round(datum.value/0.2))<0.001", "value": -9}, "value": -5}}},
        "y": {"field": "y", "type": "quantitative", "scale": {"domain": [0.42, 1.573], "nice": false, "zero": false},
          "axis": {"values": [0.5,0.6,0.7,0.8,0.9,1,1.1,1.2,1.3,1.4,1.5], "title": "Rout/Rside", "titleY": 22, "titleAlign": "right", "format": "~g",
            "labelExpr": "abs(datum.value/0.5-round(datum.value/0.5))<0.001 ? datum.label : ''", "grid": true,
            "gridOpacity": {"condition": {"test": "abs(datum.value/0.5-round(datum.value/0.5))<0.001", "value": 1}, "value": 0},
            "tickSize": {"condition": {"test": "abs(datum.value/0.5-round(datum.value/0.5))<0.001", "value": -8}, "value": -4},
            "minExtent": 10, "maxExtent": 10, "titlePadding": 3}}
      },
      "layer": [
        {"transform": [{"filter": "isValid(datum.s)"}], "mark": "rect",
          "encoding": {
            "x": {"field": "x1", "type": "quantitative", "scale": {"domain": [0.2, 0.789], "nice": false, "zero": false}},
            "x2": {"field": "x2"},
            "y": {"field": "y1", "type": "quantitative", "scale": {"domain": [0.42, 1.573], "nice": false, "zero": false}},
            "y2": {"field": "y2"},
            "fill": {"field": "s", "type": "nominal", "scale": {"domain": ["P","M","AP","AM"], "range": ["#cccccc","#999999","#cccccc","#999999"]}, "legend": null}
          }},
        {"transform": [{"filter": "isValid(datum.s)"}], "mark": {"type": "errorbar", "color": "#cc0000", "thickness": 2, "ticks": {"size": 16, "thickness": 2.5}},
          "encoding": {"yError": {"field": "e"}}},
        {"transform": [{"filter": "datum.s == 'P'"}], "mark": {"type": "point", "shape": "circle", "filled": false, "stroke": "#0000ff", "strokeWidth": 1, "strokeDash": [2, 1.5], "size": 85, "opacity": 1}},
        {"transform": [{"filter": "datum.s == 'M'"}], "mark": {"type": "point", "shape": "circle", "filled": true, "fill": "#cc0000", "size": 80, "opacity": 1}},
        {"transform": [{"filter": "isValid(datum.w)"}], "mark": {"type": "text", "font": "Liberation Sans", "fontWeight": "bold", "fontSize": 18, "align": "center", "baseline": "middle"},
          "encoding": {"text": {"field": "w"}, "color": {"condition": {"test": "datum.w == 'PRELIMINARY'", "value": "#ff2020"}, "value": "#111111"}}}
      ]
    },
    {
      "width": 329, "height": 271,
      "data": {"name": "R"},
      "transform": [{"filter": "datum.p == 'ratio'"}],
      "encoding": {
        "x": {"field": "x", "type": "quantitative", "scale": {"domain": [0, 7.83], "nice": false, "zero": false},
          "axis": {"values": [0,0.5,1,1.5,2,2.5,3,3.5,4,4.5,5,5.5,6,6.5,7,7.5], "title": "Npart¹/³", "titleAnchor": "end", "format": "d",
            "labelExpr": "abs(datum.value/2-round(datum.value/2))<0.001 ? datum.label : ''", "grid": false,
            "tickSize": {"condition": {"test": "abs(datum.value/2-round(datum.value/2))<0.001", "value": -8}, "value": -4}}},
        "y": {"field": "y", "type": "quantitative", "scale": {"domain": [0, 1.912], "nice": false, "zero": false},
          "axis": {"values": [0,0.05,0.1,0.15,0.2,0.25,0.3,0.35,0.4,0.45,0.5,0.55,0.6,0.65,0.7,0.75,0.8,0.85,0.9,0.95,1,1.05,1.1,1.15,1.2,1.25,1.3,1.35,1.4,1.45,1.5,1.55,1.6,1.65,1.7,1.75,1.8,1.85,1.9], "title": "Rout/Rside", "titleY": 18, "titleAlign": "right", "format": "~g",
            "labelExpr": "abs(datum.value/0.2-round(datum.value/0.2))<0.001 ? datum.label : ''", "grid": false, "labelPadding": 14,
            "tickSize": {"condition": {"test": "abs(datum.value/0.2-round(datum.value/0.2))<0.001", "value": -10}, "value": -4},
            "minExtent": 22, "maxExtent": 22, "titlePadding": 3}}
      },
      "layer": [
        {"transform": [{"filter": "isValid(datum.s)"}], "mark": "rect",
          "encoding": {
            "x": {"field": "x1", "type": "quantitative", "scale": {"domain": [0, 7.83], "nice": false, "zero": false}},
            "x2": {"field": "x2"},
            "y": {"field": "y1", "type": "quantitative", "scale": {"domain": [0, 1.912], "nice": false, "zero": false}},
            "y2": {"field": "y2"},
            "fill": {"field": "s", "type": "nominal", "scale": {"domain": ["P","M","AP","AM"], "range": ["#cccccc","#999999","#cccccc","#999999"]}, "legend": null}
          }},
        {"transform": [{"filter": "datum.s == 'P' || datum.s == 'M'"}], "mark": {"type": "errorbar", "color": "#cc0000", "thickness": 2, "ticks": {"size": 15, "thickness": 2.5}},
          "encoding": {"yError": {"field": "e"}}},
        {"transform": [{"filter": "datum.s == 'AP' || datum.s == 'AM'"}], "mark": {"type": "errorbar", "color": "#0000ff", "thickness": 2, "ticks": {"size": 18, "thickness": 3}},
          "encoding": {"yError": {"field": "e"}}},
        {"transform": [{"filter": "datum.s == 'M'"}], "mark": {"type": "point", "shape": "circle", "filled": true, "fill": "#cc0000", "size": 80, "opacity": 1}},
        {"transform": [{"filter": "datum.s == 'AP'"}], "mark": {"type": "point", "shape": "triangle-down", "filled": true, "fill": "#0000ff", "size": 100, "opacity": 1}},
        {"transform": [{"filter": "datum.s == 'AM'"}], "mark": {"type": "point", "shape": "triangle-up", "filled": true, "fill": "#0000ff", "size": 100, "opacity": 1}},
        {"transform": [{"filter": "datum.s == 'P'"}], "mark": {"type": "point", "shape": "circle", "filled": false, "stroke": "#cc0000", "strokeWidth": 1.5, "size": 80, "opacity": 1}},
        {"transform": [{"filter": "isValid(datum.w)"}], "mark": {"type": "text", "font": "Liberation Sans", "fontWeight": "bold", "fontSize": 13, "align": "center", "baseline": "middle"},
          "encoding": {"text": {"field": "w"}, "color": {"condition": {"test": "datum.w == 'PRELIMINARY'", "value": "#ff2020"}, "value": "#111111"}}}
      ]
    }
  ],
  "config": {
    "view": {"stroke": "#000000", "strokeWidth": 1},
    "font": "Liberation Sans",
    "axis": {"domain": false, "ticks": true, "tickColor": "#000000", "tickWidth": 1,
      "labelFont": "Liberation Sans", "labelFontWeight": "bold", "labelFontSize": 14, "labelColor": "#000000",
      "labelFlush": false, "labelOverlap": false,
      "titleFont": "Liberation Sans", "titleFontWeight": "bold", "titleFontSize": 18, "titleColor": "#000000",
      "gridColor": "#000000", "gridDash": [2, 2], "gridWidth": 1},
    "axisX": {"labelPadding": 12, "titlePadding": 4},
    "axisY": {"labelPadding": 12},
    "legend": {"labelFont": "Liberation Sans", "labelFontWeight": "bold", "labelFontSize": 14.5, "labelColor": "#000000",
      "fillColor": "#f2f2f2", "strokeColor": "#000000", "padding": 6, "symbolSize": 900, "symbolOffset": 15,
      "labelOffset": 20, "rowPadding": 11, "offset": 4, "symbolStrokeWidth": 2, "labelLimit": 300}
  }
}
